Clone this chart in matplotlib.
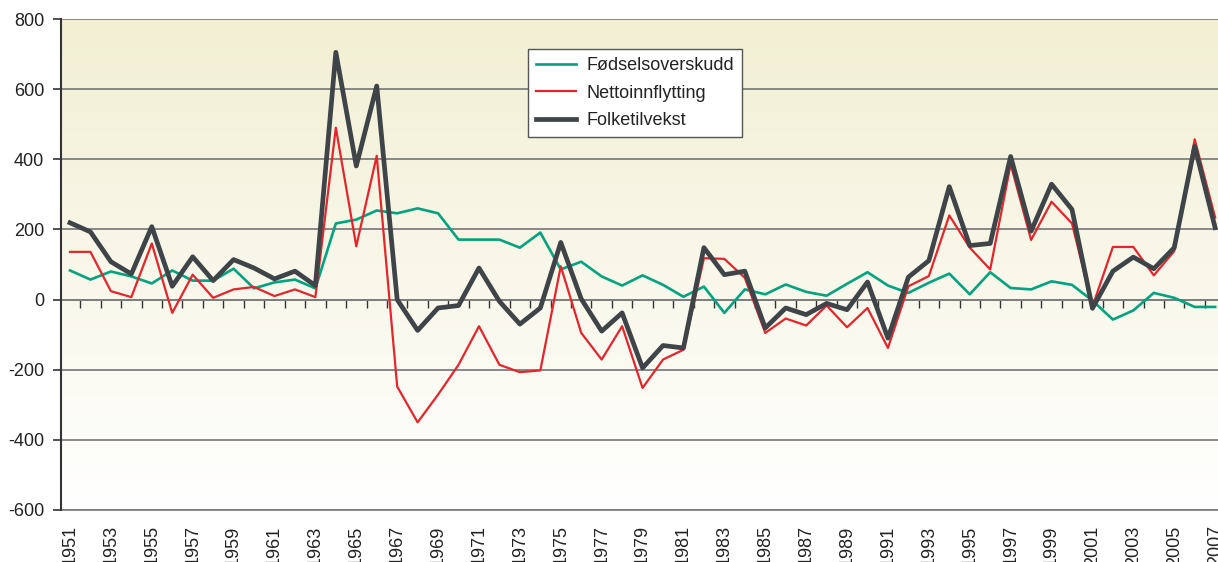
import numpy as np
import matplotlib
matplotlib.use('Agg')
import matplotlib.pyplot as plt

plt.rcParams['font.family'] = ['Liberation Sans', 'DejaVu Sans']

years = list(range(1951, 2008))

fodsel = [83, 57, 80, 66, 46, 83, 54, 54, 88, 32,
          49, 57, 32, 217, 228, 254, 246, 260, 246, 171,
          171, 171, 148, 191, 86, 108, 66, 40, 69, 42,
          8, 37, -38, 29, 15, 43, 22, 11, 45, 78,
          40, 19, 48, 74, 15, 78, 33, 29, 52, 42,
          -3, -57, -31, 19, 5, -21, -21]

netto = [136, 136, 24, 7, 160, -38, 71, 5, 29, 36,
         10, 29, 7, 490, 152, 410, -248, -350, -271, -186,
         -76, -186, -207, -202, 95, -95, -171, -76, -252, -171,
         -143, 118, 116, 62, -95, -54, -74, -17, -79, -24,
         -138, 38, 67, 240, 148, 86, 386, 170, 279, 217,
         -20, 150, 150, 69, 138, 457, 234]

folke = [219, 193, 108, 73, 208, 38, 122, 54, 114, 90,
         59, 81, 40, 705, 381, 609, 0, -88, -24, -17,
         90, -5, -70, -24, 163, 2, -90, -38, -195, -131,
         -138, 148, 71, 81, -81, -24, -43, -11, -29, 50,
         -110, 64, 111, 322, 154, 160, 408, 195, 329, 257,
         -25, 81, 121, 88, 148, 437, 205]

yticks = [-600, -400, -200, 0, 200, 400, 600, 800]

fig = plt.figure(figsize=(12.18, 5.62), dpi=100)
ax = fig.add_axes([61 / 1218, 1 - 510 / 562, 1 - 61 / 1218, (510 - 19) / 562])

# background gradient, pale yellow at top to white at bottom
top = np.array([242, 239, 211]) / 255
bot = np.array([255, 255, 255]) / 255
t = np.linspace(0, 1, 256)[:, None]
grad = (top * (1 - t) + bot * t)[:, None, :]
ax.imshow(grad, extent=[0, 1, 0, 1], transform=ax.transAxes,
          aspect='auto', zorder=0)

ax.plot(years, fodsel, color='#00A27F', lw=1.9, label='Fødselsoverskudd', zorder=3)
ax.plot(years, netto, color='#E4262C', lw=1.6, label='Nettoinnflytting', zorder=4)
ax.plot(years, folke, color='#3E4447', lw=3.4, label='Folketilvekst', zorder=5)

ax.set_xlim(1950.56, 2007.14)
ax.set_ylim(-600, 800)
ax.set_yticks(yticks)
ax.set_yticklabels([str(v) for v in yticks])
ax.grid(axis='y', color='#7f7f7f', lw=1.3, zorder=1)
ax.grid(axis='x', visible=False)

ax.set_xticks(years[::2])
ax.set_xticklabels([str(y) for y in years[::2]], rotation=90, va='top')
ax.tick_params(axis='x', length=0, pad=11, labelsize=13, labelcolor='#222222')
ax.tick_params(axis='y', length=6, width=1.2, color='#333333', pad=6,
               labelsize=13, labelcolor='#222222')

for s in ['top', 'right']:
    ax.spines[s].set_visible(False)
ax.spines['bottom'].set_color('#7f7f7f')
ax.spines['bottom'].set_linewidth(1.3)
ax.spines['left'].set_color('#333333')
ax.spines['left'].set_linewidth(1.5)
ax.spines['left'].set_zorder(6)

# category axis at zero with ticks between years
zero = ax.secondary_xaxis(600 / 1400)
zero.set_xticks([y - 0.5 for y in years] + [years[-1] + 0.5])
zero.tick_params(axis='x', direction='out', length=6, width=1.0,
                 color='#333333', labelbottom=False, labeltop=False)
zero.spines['bottom'].set_color('#6f6f6f')
zero.spines['bottom'].set_linewidth(1.3)

leg = ax.legend(loc='upper left', bbox_to_anchor=(528 / 1218, 1 - 49 / 562),
                bbox_transform=fig.transFigure, fontsize=13, frameon=True,
                fancybox=False, handlelength=2.2, handletextpad=0.6,
                labelspacing=0.58, borderpad=0.45, borderaxespad=0)
leg.get_frame().set_edgecolor('#555555')
leg.get_frame().set_linewidth(1.0)
leg.get_frame().set_facecolor('white')
leg.get_frame().set_alpha(1)
leg.set_zorder(10)
for txt in leg.get_texts():
    txt.set_color('#222222')

fig.savefig('out.png', dpi=100)
